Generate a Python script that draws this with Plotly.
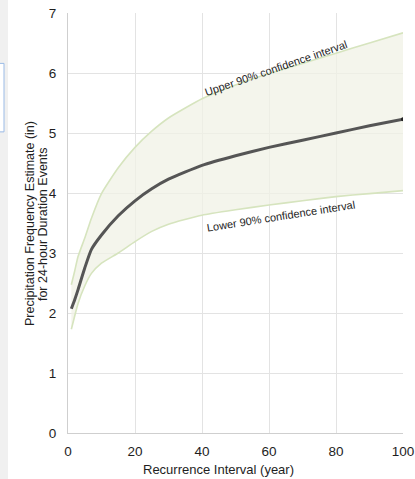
import plotly.graph_objects as go

# Recurrence interval (years) and 24-hour precipitation depth estimates (inches)
years = [1, 2, 3, 5, 7, 10, 15, 20, 25, 30, 40, 50, 60, 70, 80, 90, 100]
estimate = [2.07, 2.22, 2.39, 2.75, 3.06, 3.30, 3.62, 3.87, 4.07, 4.23, 4.46,
            4.62, 4.76, 4.88, 5.00, 5.12, 5.23]
upper_90 = [2.47, 2.70, 2.94, 3.25, 3.58, 3.99, 4.42, 4.76, 5.03, 5.25, 5.57,
            5.80, 5.99, 6.16, 6.33, 6.50, 6.67]
lower_90 = [1.73, 1.95, 2.16, 2.45, 2.66, 2.83, 3.00, 3.19, 3.36, 3.48, 3.63,
            3.72, 3.80, 3.87, 3.94, 3.99, 4.04]

x_ticks = [0, 20, 40, 60, 80, 100]
y_ticks = [0, 1, 2, 3, 4, 5, 6, 7]

band_line = "rgb(214,228,190)"
band_fill = "rgba(240,242,230,0.75)"
font_family = "Liberation Sans, Arial, sans-serif"
text_color = "#1e1e1e"

fig = go.Figure()

fig.add_trace(go.Scatter(
    x=years, y=lower_90, mode="lines",
    line=dict(color=band_line, width=1.6, shape="spline", smoothing=0.5),
    hoverinfo="skip", showlegend=False,
))
fig.add_trace(go.Scatter(
    x=years, y=upper_90, mode="lines", fill="tonexty", fillcolor=band_fill,
    line=dict(color=band_line, width=1.6, shape="spline", smoothing=0.5),
    hoverinfo="skip", showlegend=False,
))
fig.add_trace(go.Scatter(
    x=years, y=estimate, mode="lines",
    line=dict(color="#555555", width=3, shape="spline", smoothing=0.5),
    showlegend=False,
))
fig.add_trace(go.Scatter(
    x=[years[-1]], y=[estimate[-1]], mode="markers",
    marker=dict(color="#222222", size=4),
    showlegend=False,
))

# curve labels for the confidence band
fig.add_annotation(
    x=62.1, y=6.09, xref="x", yref="y", text="Upper 90% confidence interval",
    showarrow=False, textangle=-19,
    font=dict(family=font_family, size=11, color=text_color),
)
fig.add_annotation(
    x=63.6, y=3.62, xref="x", yref="y", text="Lower 90% confidence interval",
    showarrow=False, textangle=-9,
    font=dict(family=font_family, size=11, color=text_color),
)

# axis titles
title_font = dict(family=font_family, size=12.5, color=text_color)
fig.add_annotation(
    x=0.448, y=-0.088, xref="paper", yref="paper", yanchor="middle",
    text="Recurrence Interval (year)", showarrow=False,
    font=dict(family=font_family, size=13, color=text_color),
)
fig.add_annotation(
    x=-0.113, y=0.498, xref="paper", yref="paper", xanchor="center",
    text="Precipitation Frequency Estimate (in)", showarrow=False,
    textangle=-90, font=title_font,
)
fig.add_annotation(
    x=-0.074, y=0.498, xref="paper", yref="paper", xanchor="center",
    text="for 24-hour Duration Events", showarrow=False,
    textangle=-90, font=title_font,
)

# page-side strip and panel edge to the left of the chart
fig.add_shape(type="rect", xref="paper", yref="paper",
              x0=-0.25, x1=-0.179, y0=-0.2, y1=1.1,
              fillcolor="#f0f0f0", line=dict(width=0), layer="below")
fig.add_shape(type="rect", xref="paper", yref="paper",
              x0=-0.25, x1=-0.191, y0=0.717, y1=0.880,
              fillcolor="#ffffff", line=dict(color="#9bbbe6", width=1))

axis_common = dict(
    showgrid=True, gridcolor="#e3e3e3", gridwidth=1,
    showline=True, linecolor="#cfcfcf", linewidth=1,
    zeroline=False, ticks="",
    tickfont=dict(family=font_family, size=13.5, color=text_color),
)

fig.update_layout(
    width=415, height=479,
    margin=dict(l=68, r=12, t=13, b=46, autoexpand=False),
    paper_bgcolor="#ffffff", plot_bgcolor="#ffffff",
    xaxis=dict(range=[0, 100], tickvals=x_ticks, ticklabelstandoff=6,
               **axis_common),
    yaxis=dict(range=[0, 7], tickvals=y_ticks, ticklabelstandoff=8,
               **axis_common),
)

fig.write_html("out.html")
